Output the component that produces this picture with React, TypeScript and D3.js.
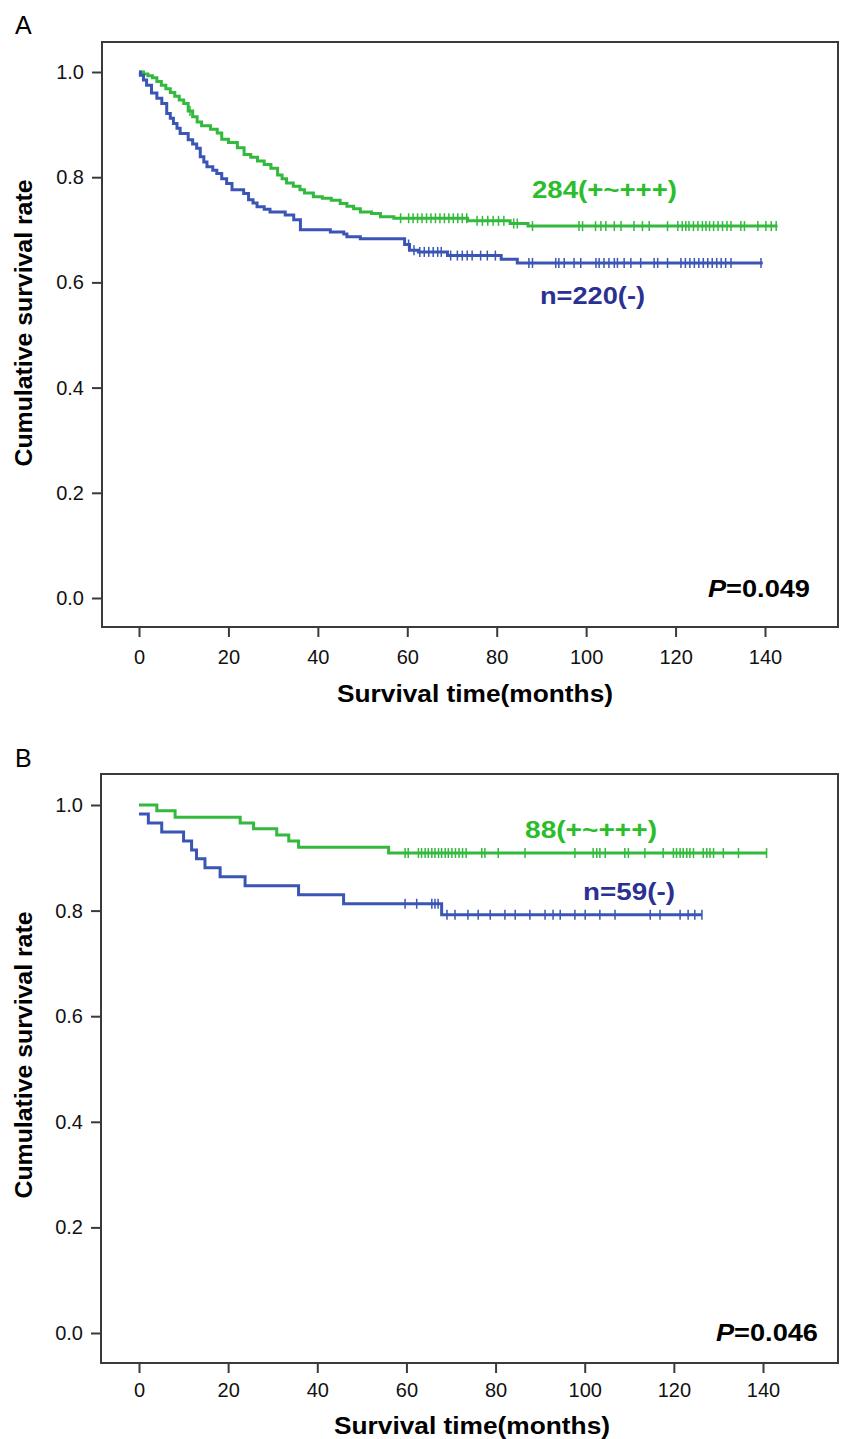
import { useEffect, useRef } from "react";
import * as d3 from "d3";

// ---- Panel A (all patients) ----
// green group, n=284 : [time in months, survival after step]
const greenATimes = [0, 1, 2, 3, 4, 5, 6, 7, 8, 9, 10, 11, 12, 13, 14, 16, 17.5, 18.5, 20, 22, 23.5, 25, 26.5, 28, 29.5, 31, 32, 33, 34.5, 36, 37, 39, 41, 43, 45, 46.5, 48, 49.5, 52, 54, 57, 73.5, 83, 87];
const greenASurv = [1.0, 0.996, 0.993, 0.989, 0.982, 0.975, 0.968, 0.961, 0.954, 0.947, 0.94, 0.926, 0.915, 0.905, 0.898, 0.891, 0.884, 0.872, 0.866, 0.856, 0.843, 0.838, 0.831, 0.824, 0.817, 0.804, 0.797, 0.789, 0.783, 0.776, 0.77, 0.763, 0.76, 0.756, 0.75, 0.745, 0.74, 0.734, 0.731, 0.725, 0.722, 0.717, 0.712, 0.707];
const greenAEnd = 142.8;
const greenACensored = [11.4, 58.5, 60.3, 61.3, 62.3, 63.3, 64.3, 65.3, 66.3, 67.3, 68.3, 69.3, 70.3, 71.3, 72.3, 73.3, 75.6, 76.8, 78, 79.2, 80.4, 81.6, 83.8, 84.6, 88.0, 98.4, 99.2, 102.1, 103.3, 104.4, 106.3, 107.8, 110.7, 112.6, 114.1, 118.2, 120.5, 121.5, 122.3, 123, 124, 125, 126, 126.8, 127.6, 128.5, 129.5, 130.5, 131.5, 132.4, 134.6, 135.4, 138.4, 140.2, 141.4, 142.5];

// blue group, n=220
const blueATimes = [0, 0.3, 1, 1.7, 2.8, 4, 5.1, 6.2, 7, 7.7, 8.5, 9.2, 11, 12, 12.9, 13.7, 14.5, 15.2, 16.5, 17.4, 18.5, 19.6, 20.8, 23.4, 24.5, 25.5, 26.4, 28, 29.3, 32.7, 34.6, 36.1, 42.8, 45.8, 46.5, 49.5, 59.4, 60.5, 62.5, 69, 81, 84.6];
const blueASurv = [1.0, 0.994, 0.985, 0.975, 0.96, 0.95, 0.94, 0.921, 0.912, 0.902, 0.893, 0.883, 0.871, 0.863, 0.855, 0.839, 0.829, 0.82, 0.813, 0.807, 0.797, 0.788, 0.776, 0.769, 0.757, 0.751, 0.744, 0.739, 0.734, 0.728, 0.719, 0.7, 0.696, 0.692, 0.687, 0.683, 0.672, 0.661, 0.658, 0.651, 0.644, 0.637];
const blueAEnd = 139.5;
const blueACensored = [60.3, 61.5, 62.8, 63.8, 64.8, 65.8, 66.8, 67.6, 69.7, 71.2, 72.3, 73.4, 74.5, 76.4, 77.9, 79.7, 87.2, 88.0, 93.2, 93.9, 95.1, 97.3, 98.8, 102.2, 102.9, 104.0, 105.1, 106.3, 107.0, 108.5, 110.0, 112.2, 115.2, 116.0, 118.2, 121.2, 122.2, 123.2, 124.2, 125.2, 126.2, 127.2, 128.2, 129.2, 130.2, 131.2, 132.4, 139.1];

// ---- Panel B ----
const greenBTimes = [0, 4, 8.1, 22.7, 25.7, 30.9, 33.6, 35.8, 56];
const greenBSurv = [1.0, 0.989, 0.977, 0.966, 0.955, 0.943, 0.932, 0.92, 0.909];
const greenBEnd = 140.8;
const greenBCensored = [59.7, 60.4, 62.7, 63.4, 64.2, 64.9, 65.7, 66.4, 67.2, 67.9, 68.7, 69.4, 70.2, 71, 71.8, 72.6, 73.4, 76.9, 77.6, 80.6, 86.6, 97.8, 101.9, 102.7, 103.4, 104.6, 109.0, 109.8, 113.5, 117.6, 119.9, 120.6, 121.4, 122.1, 122.9, 123.6, 124.4, 126.6, 127.4, 128.1, 128.9, 131.1, 134.5, 140.8];

const blueBTimes = [0, 2.1, 5.1, 10, 11.8, 12.9, 14.8, 18.2, 23.8, 35.8, 45.9, 67.9];
const blueBSurv = [0.983, 0.966, 0.949, 0.932, 0.915, 0.898, 0.881, 0.864, 0.847, 0.83, 0.813, 0.792];
const blueBEnd = 126.3;
const blueBCensored = [59.7, 62.3, 65.7, 66.4, 67.1, 69.1, 70.9, 73.8, 76.1, 78.8, 82.1, 84.4, 87.7, 91.1, 92.9, 94.5, 97.8, 100.1, 103.4, 106.8, 114.7, 116.9, 121.4, 123.2, 124.7, 126.3];

const xTicks = [0, 20, 40, 60, 80, 100, 120, 140];
const yTicks = [0.0, 0.2, 0.4, 0.6, 0.8, 1.0];

const GREEN = "#33b93d";
const BLUE = "#3a55b4";
const GREEN_TEXT = "#2bbd2b";
const BLUE_TEXT = "#2b3193";
const FONT = "'Liberation Sans', Arial, sans-serif";

function drawPanel(svg, p) {
    const g = svg.append("g");

    const x = d3.scaleLinear().domain([0, 140]).range([p.x0, p.x140]);
    const y = d3.scaleLinear().domain([0, 1]).range([p.y0, p.y1]);

    // panel letter
    g.append("text")
        .attr("x", 15).attr("y", p.letterY)
        .attr("font-family", FONT).attr("font-size", 25)
        .text(p.letter);

    // frame
    g.append("rect")
        .attr("x", p.left).attr("y", p.top)
        .attr("width", p.right - p.left).attr("height", p.bottom - p.top)
        .attr("fill", "none").attr("stroke", "#3a3a3a").attr("stroke-width", 2);

    // axes
    const yAxis = g.append("g")
        .attr("transform", `translate(${p.left}, 0)`)
        .call(d3.axisLeft(y).tickValues(yTicks).tickSize(10).tickPadding(8).tickFormat(d3.format(".1f")));
    const xAxis = g.append("g")
        .attr("transform", `translate(0, ${p.bottom})`)
        .call(d3.axisBottom(x).tickValues(xTicks).tickSize(10).tickPadding(p.xPad).tickFormat(d3.format("d")));
    [yAxis, xAxis].forEach(a => {
        a.select(".domain").remove();
        a.selectAll("line").attr("stroke", "#3a3a3a").attr("stroke-width", 2);
        a.selectAll("text").attr("font-family", FONT).attr("font-size", 20).attr("fill", "#111");
    });

    // axis titles
    g.append("text")
        .attr("x", p.xTitleX).attr("y", p.xTitleY)
        .attr("font-family", FONT).attr("font-size", 23).attr("font-weight", "bold")
        .attr("textLength", 276).attr("lengthAdjust", "spacingAndGlyphs")
        .text("Survival time(months)");
    g.append("text")
        .attr("transform", `translate(32, ${p.yTitleY}) rotate(-90)`)
        .attr("text-anchor", "middle")
        .attr("font-family", FONT).attr("font-size", 24).attr("font-weight", "bold")
        .attr("textLength", 287).attr("lengthAdjust", "spacingAndGlyphs")
        .text("Cumulative survival rate");

    // survival curves (step functions)
    const line = d3.line().x(d => x(d[0])).y(d => y(d[1])).curve(d3.curveStepAfter);
    p.series.forEach(s => {
        const pts = s.times.map((t, i) => [t, s.surv[i]]);
        pts.push([s.end, s.surv[s.surv.length - 1]]);
        g.append("path")
            .attr("d", line(pts))
            .attr("fill", "none")
            .attr("stroke", s.color)
            .attr("stroke-width", 3);

        // censor marks
        const survAt = t => s.surv[Math.max(0, d3.bisectRight(s.times, t) - 1)];
        g.append("g").selectAll("line")
            .data(s.censored)
            .join("line")
            .attr("x1", d => x(d)).attr("x2", d => x(d))
            .attr("y1", d => y(survAt(d)) - 5)
            .attr("y2", d => y(survAt(d)) + 5)
            .attr("stroke", s.color)
            .attr("stroke-width", 1.5);

        g.append("text")
            .attr("x", s.labelX).attr("y", s.labelY)
            .attr("font-family", FONT).attr("font-size", 23).attr("font-weight", "bold")
            .attr("fill", s.textColor)
            .attr("textLength", s.labelW).attr("lengthAdjust", "spacingAndGlyphs")
            .text(s.label);
    });

    // p value
    const pt = g.append("text")
        .attr("x", p.pX).attr("y", p.pY)
        .attr("font-family", FONT).attr("font-size", 23).attr("font-weight", "bold")
        .attr("textLength", 102).attr("lengthAdjust", "spacingAndGlyphs");
    pt.append("tspan").attr("font-style", "italic").text("P");
    pt.append("tspan").text(p.pText);
}

export default function App() {
    const ref = useRef(null);

    useEffect(() => {
        const svg = d3.select(ref.current);
        svg.selectAll("*").remove();

        drawPanel(svg, {
            letter: "A", letterY: 34,
            left: 102, right: 838, top: 42, bottom: 627,
            x0: 139, x140: 765, y0: 598, y1: 72, xPad: 13,
            xTitleX: 337, xTitleY: 702, yTitleY: 323,
            pX: 708, pY: 597, pText: "=0.049",
            series: [
                { times: greenATimes, surv: greenASurv, end: greenAEnd, censored: greenACensored, color: GREEN,
                  textColor: GREEN_TEXT, label: "284(+~+++)", labelX: 532, labelY: 198, labelW: 145 },
                { times: blueATimes, surv: blueASurv, end: blueAEnd, censored: blueACensored, color: BLUE,
                  textColor: BLUE_TEXT, label: "n=220(-)", labelX: 540, labelY: 304, labelW: 105 },
            ],
        });

        drawPanel(svg, {
            letter: "B", letterY: 767,
            left: 101, right: 838, top: 774, bottom: 1363,
            x0: 139, x140: 763, y0: 1333, y1: 805, xPad: 10,
            xTitleX: 334, xTitleY: 1434, yTitleY: 1055,
            pX: 716, pY: 1341, pText: "=0.046",
            series: [
                { times: greenBTimes, surv: greenBSurv, end: greenBEnd, censored: greenBCensored, color: GREEN,
                  textColor: GREEN_TEXT, label: "88(+~+++)", labelX: 525, labelY: 838, labelW: 132 },
                { times: blueBTimes, surv: blueBSurv, end: blueBEnd, censored: blueBCensored, color: BLUE,
                  textColor: BLUE_TEXT, label: "n=59(-)", labelX: 583, labelY: 900, labelW: 92 },
            ],
        });
    }, []);

    return (
        <svg ref={ref} width={847} height={1439}
             style={{ position: "absolute", left: 0, top: 0, background: "#fff" }} />
    );
}
